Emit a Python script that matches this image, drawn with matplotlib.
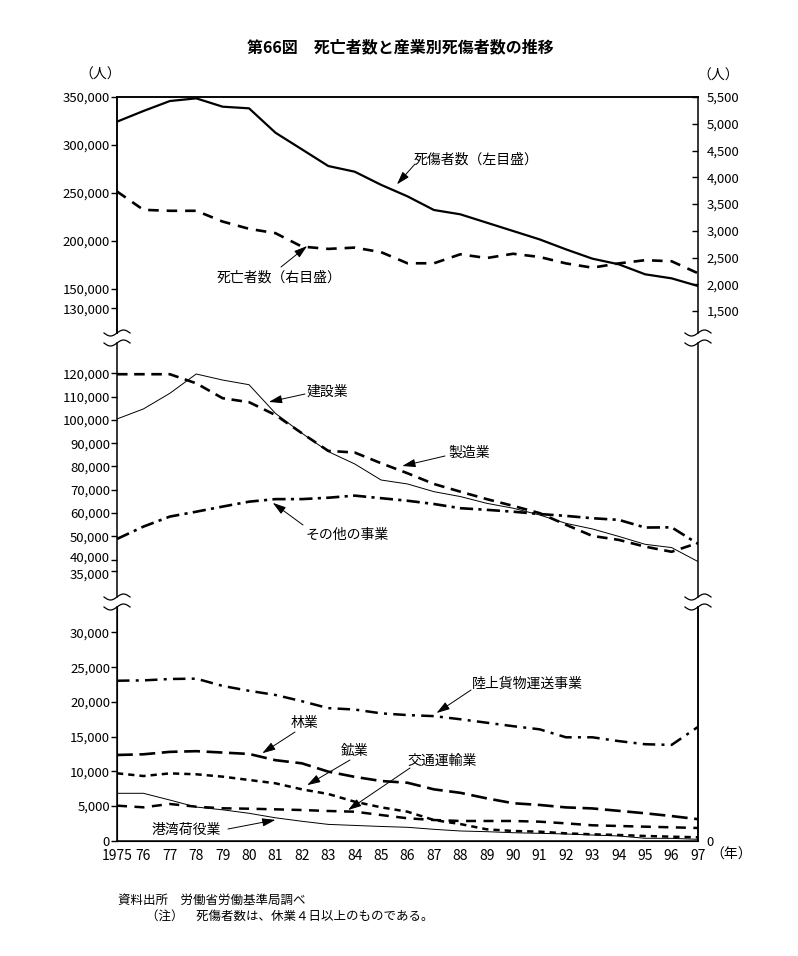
import matplotlib
matplotlib.use("Agg")
import matplotlib.pyplot as plt
from matplotlib.lines import Line2D
from matplotlib.ticker import FuncFormatter
import matplotlib.transforms as mtransforms
import numpy as np

plt.rcParams['font.family'] = ['Noto Sans CJK JP', 'DejaVu Sans']

years = list(range(1975, 1998))
year_labels = ['1975'] + [str(y)[2:] for y in years[1:]]

# 死傷者数 (left axis of top panel)
casualties = [324300, 335400, 345800, 348600, 339900, 338200, 312800, 295500,
              278100, 272200, 258500, 246500, 232300, 227800, 219100, 210400,
              201700, 191300, 181600, 175700, 165300, 161100, 153100]
# 死亡者数 (right axis of top panel)
deaths = [3734, 3391, 3373, 3373, 3172, 3036, 2955, 2704, 2661, 2685, 2600,
          2392, 2392, 2560, 2490, 2570, 2510, 2390, 2310, 2390, 2450, 2430, 2206]

# middle panel
construction = [100400, 104700, 111400, 119700, 117100, 115100, 102800, 94300,
                86400, 81100, 74200, 72500, 69200, 67100, 64200, 62100,
                59200, 55600, 53200, 50000, 46600, 45200, 39200]
manufacturing = [119600, 119600, 119600, 115700, 109300, 107600, 102100, 94300,
                 86700, 86000, 81400, 77100, 72500, 69200, 66000, 63100,
                 60000, 55000, 50200, 48500, 45600, 43400, 47200]
other_ind = [48900, 54200, 58500, 60600, 62800, 64900, 66000, 66000, 66600,
             67500, 66400, 65300, 63900, 62100, 61400, 60600, 59600, 58800,
             57800, 57100, 53800, 53900, 46800]

# bottom panel
trucking = [23050, 23100, 23300, 23350, 22300, 21600, 21000, 20100, 19100,
            18900, 18350, 18100, 17950, 17500, 17000, 16500, 16050, 14900,
            14900, 14350, 13900, 13800, 16400]
forestry = [12350, 12450, 12800, 12900, 12700, 12500, 11600, 11150, 9950,
            9200, 8600, 8350, 7400, 6900, 6100, 5400, 5150, 4800, 4650, 4300,
            3950, 3550, 3100]
mining = [9710, 9320, 9700, 9570, 9230, 8750, 8270, 7400, 6730, 5620, 4810,
          4180, 2980, 2400, 1640, 1400, 1300, 1060, 920, 820, 680, 580, 490]
transport = [5050, 4810, 5290, 4900, 4670, 4610, 4520, 4420, 4280, 4180, 3700,
             3230, 2980, 2840, 2840, 2840, 2740, 2500, 2220, 2120, 2020, 1930, 1830]
port = [6830, 6830, 5860, 4850, 4450, 3950, 3300, 2800, 2350, 2200, 2050,
        1930, 1640, 1400, 1300, 1150, 1060, 970, 820, 680, 350, 340, 200]

W, H = 798, 956
fig = plt.figure(figsize=(W / 100, H / 100), dpi=100)

L, R = 117, 698


def axes_px(top, bottom):
    return fig.add_axes([L / W, (H - bottom) / H, (R - L) / W, (bottom - top) / H])


ax1 = axes_px(97, 333)
ax2 = axes_px(343, 597)
ax3 = axes_px(607, 840.7)
ax1r = ax1.twinx()

fmt = FuncFormatter(lambda v, p: f"{v:,.0f}")
FS = 10
TFS = 9.5

for ax in (ax1, ax2, ax3, ax1r):
    ax.set_xlim(1975, 1997)
    ax.patch.set_visible(False)
    for s in ax.spines.values():
        s.set_linewidth(1.1)

ax1.set_ylim(104167, 350000)
ax1r.set_ylim(1089, 5500)
ax2.set_ylim(23990, 133000)
ax3.set_ylim(0, 33674)

ax1.spines['bottom'].set_visible(False)
ax1r.spines['bottom'].set_visible(False)
ax1.spines['right'].set_visible(False)
ax2.spines['top'].set_visible(False)
ax2.spines['bottom'].set_visible(False)
ax3.spines['top'].set_visible(False)

for ax in (ax1, ax2, ax1r):
    ax.set_xticks([])

ax3.set_xticks(years)
ax3.set_xticklabels(year_labels)
ax3.tick_params(axis='x', length=0, pad=6, labelsize=FS)

ax1.set_yticks([130000, 150000, 200000, 250000, 300000, 350000])
ax2.set_yticks([35000, 40000, 50000, 60000, 70000, 80000, 90000, 100000, 110000, 120000])
ax3.set_yticks([0, 5000, 10000, 15000, 20000, 25000, 30000])
for ax in (ax1, ax2, ax3):
    ax.yaxis.set_major_formatter(fmt)
    ax.tick_params(axis='y', direction='out', length=4, width=1, pad=1, labelsize=TFS)

# 40,000 and 35,000 sit very close: nudge them apart a little
fig.canvas.draw()
for lab in ax2.get_yticklabels():
    if lab.get_text() == '35,000':
        lab.set_transform(lab.get_transform() + mtransforms.ScaledTranslation(0, -2 / 72, fig.dpi_scale_trans))
    if lab.get_text() == '40,000':
        lab.set_transform(lab.get_transform() + mtransforms.ScaledTranslation(0, 2 / 72, fig.dpi_scale_trans))

ax1r.set_yticks([1500, 2000, 2500, 3000, 3500, 4000, 4500, 5000, 5500])
ax1r.yaxis.set_major_formatter(fmt)
ax1r.tick_params(axis='y', direction='in', length=4, width=1, pad=6, labelsize=TFS)

# right "0" of bottom panel
ax3r = ax3.twinx()
ax3r.set_ylim(ax3.get_ylim())
ax3r.set_yticks([0])
ax3r.tick_params(axis='y', length=0, pad=6, labelsize=TFS)
ax3r.spines['top'].set_visible(False)
ax3r.spines['right'].set_linewidth(1.1)
ax3r.patch.set_visible(False)

# lines
ax1.plot(years, casualties, color='k', lw=1.6)
ax1r.plot(years, deaths, color='k', lw=1.9, dashes=(4, 3))

ax2.plot(years, construction, color='k', lw=0.7)
ax2.plot(years, manufacturing, color='k', lw=1.9, dashes=(4, 2.5))
ax2.plot(years, other_ind, color='k', lw=1.9, dashes=(5, 2, 1.2, 2))

ax3.plot(years, trucking, color='k', lw=1.8, dashes=(5, 2.5, 1.2, 2.5))
ax3.plot(years, forestry, color='k', lw=1.9, dashes=(6, 2.5))
ax3.plot(years, mining, color='k', lw=1.8, dashes=(2.5, 2))
ax3.plot(years, transport, color='k', lw=1.8, dashes=(4, 3))
ax3.plot(years, port, color='k', lw=0.7)

# break marks on both side spines
xs = np.linspace(-13, 13, 40)
ys = 3 * np.sin(np.pi * xs / 13)
for yb in (333, 343, 597, 607):
    for xb in (L, R):
        fig.add_artist(Line2D((xb + xs) / W, (H - yb + ys) / H,
                              transform=fig.transFigure, color='k', lw=0.9))


def label(ax, text, tx, ty, ax_from, ay_from, tip):
    fig.text(tx / W, (H - ty) / H, text, fontsize=FS, va='center', ha='left')
    ax.annotate('', xy=tip, xycoords='data',
                xytext=(ax_from, H - ay_from), textcoords='figure pixels',
                arrowprops=dict(arrowstyle='-|>,head_length=0.8,head_width=0.25',
                                color='k', lw=0.7, shrinkA=0, shrinkB=0,
                                mutation_scale=10))


label(ax1, '死傷者数（左目盛）', 414, 160, 415, 164, (1985.6, 259000))
label(ax1r, '死亡者数（右目盛）', 217, 278, 281, 267, (1982.2, 2715))
label(ax2, '建設業', 307, 392, 305, 394, (1980.75, 107700))
label(ax2, '製造業', 448, 453, 445, 456, (1985.8, 80200))
label(ax2, 'その他の事業', 306, 535, 303, 525, (1980.9, 64400))
label(ax3, '陸上貨物運送事業', 472, 684, 471, 690, (1987.1, 18400))
label(ax3, '林業', 291, 723, 295, 732, (1980.5, 12600))
label(ax3, '鉱業', 341, 751, 350, 760, (1982.2, 8000))
label(ax3, '交通運輸業', 407, 761, 410, 768, (1983.75, 4420))
label(ax3, '港湾荷役業', 152, 830, 228, 829, (1981.0, 3000))

fig.text(400 / W, (H - 47) / H, '第66図　死亡者数と産業別死傷者数の推移',
         fontsize=11.5, fontweight='bold', ha='center', va='center')
fig.text(100 / W, (H - 75) / H, '（人）', fontsize=FS, ha='center', va='center')
fig.text(718 / W, (H - 76) / H, '（人）', fontsize=FS, ha='center', va='center')
fig.text(731 / W, (H - 855) / H, '（年）', fontsize=FS, ha='center', va='center')

fig.text(118 / W, (H - 900) / H, '資料出所　労働省労働基準局調べ', fontsize=9, va='center')
fig.text(146 / W, (H - 916) / H, '（注）　死傷者数は、休業４日以上のものである。', fontsize=9, va='center')

fig.savefig('out.png', dpi=100)
